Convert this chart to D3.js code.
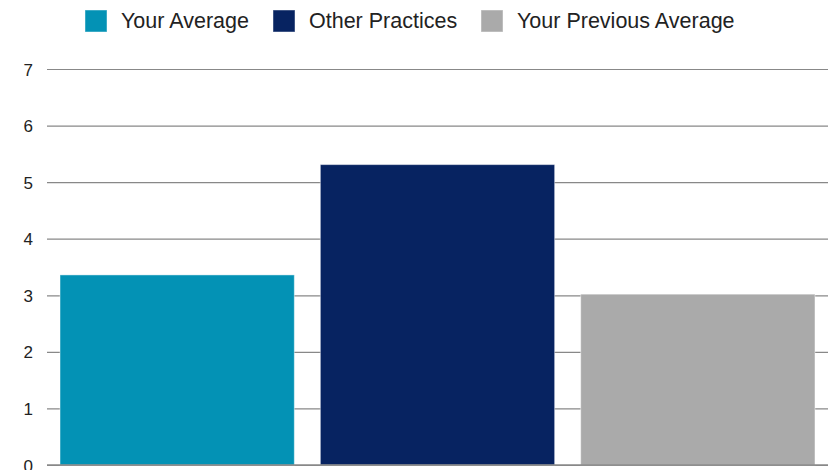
<!DOCTYPE html>
<html>
<head>
<meta charset="utf-8">
<script src="https://cdn.jsdelivr.net/npm/d3@7"></script>
<style>
  html, body { margin: 0; padding: 0; background: #fff; }
  svg { display: block; font-family: "Liberation Sans", Arial, sans-serif; }
</style>
</head>
<body>
<svg id="chart" width="832" height="470"></svg>
<script>
const categories = ["Your Average", "Other Practices", "Your Previous Average"];
const values = [3.36, 5.31, 3.02];
const colors = ["#0392b5", "#072361", "#aaaaaa"];
const yTicks = [0, 1, 2, 3, 4, 5, 6, 7];

(function () {
const svg = d3.select("#chart");
const mLeft = 47, mRight = 828, mTop = 69, mBottom = 465;

const x = d3.scaleBand().domain(categories).range([mLeft, mRight]).paddingInner(0.1).paddingOuter(0.05);
const y = d3.scaleLinear().domain([0, 7]).range([mBottom, mTop]);

// gridlines + axis
const yAxis = d3.axisLeft(y).tickValues(yTicks).tickSize(-(mRight - mLeft)).tickPadding(14).tickFormat(d3.format("d"));
const gAxis = svg.append("g").attr("transform", `translate(${mLeft},0)`).call(yAxis);
gAxis.select(".domain").remove();
gAxis.selectAll(".tick line").attr("stroke", "#888").attr("stroke-width", 1.2);
gAxis.selectAll(".tick text").attr("fill", "#222").attr("font-size", "17px").attr("font-family", "Liberation Sans, Arial, sans-serif").attr("dy", "0.36em");

// bars
svg.append("g").selectAll("rect").data(categories).join("rect")
  .attr("x", d => x(d))
  .attr("width", x.bandwidth())
  .attr("y", (d, i) => y(values[i]))
  .attr("height", (d, i) => y(0) - y(values[i]))
  .attr("fill", (d, i) => colors[i])
  .attr("stroke", "rgba(255,255,255,0.45)")
  .attr("stroke-width", 1);

// baseline
svg.append("line").attr("x1", mLeft).attr("x2", mRight).attr("y1", y(0)).attr("y2", y(0))
  .attr("stroke", "#888").attr("stroke-width", 1.5);

// legend
const legendX = [85, 273, 481];
const legend = svg.append("g").selectAll("g").data(categories).join("g")
  .attr("transform", (d, i) => `translate(${legendX[i]},10)`);
legend.append("rect").attr("width", 22).attr("height", 22)
  .attr("fill", (d, i) => colors[i])
  .attr("stroke", "rgba(255,255,255,0.45)");
legend.append("text").attr("x", 36).attr("y", 17.5)
  .attr("font-size", "21.5px").attr("fill", "#222")
  .text(d => d);
})();
</script>
</body>
</html>
